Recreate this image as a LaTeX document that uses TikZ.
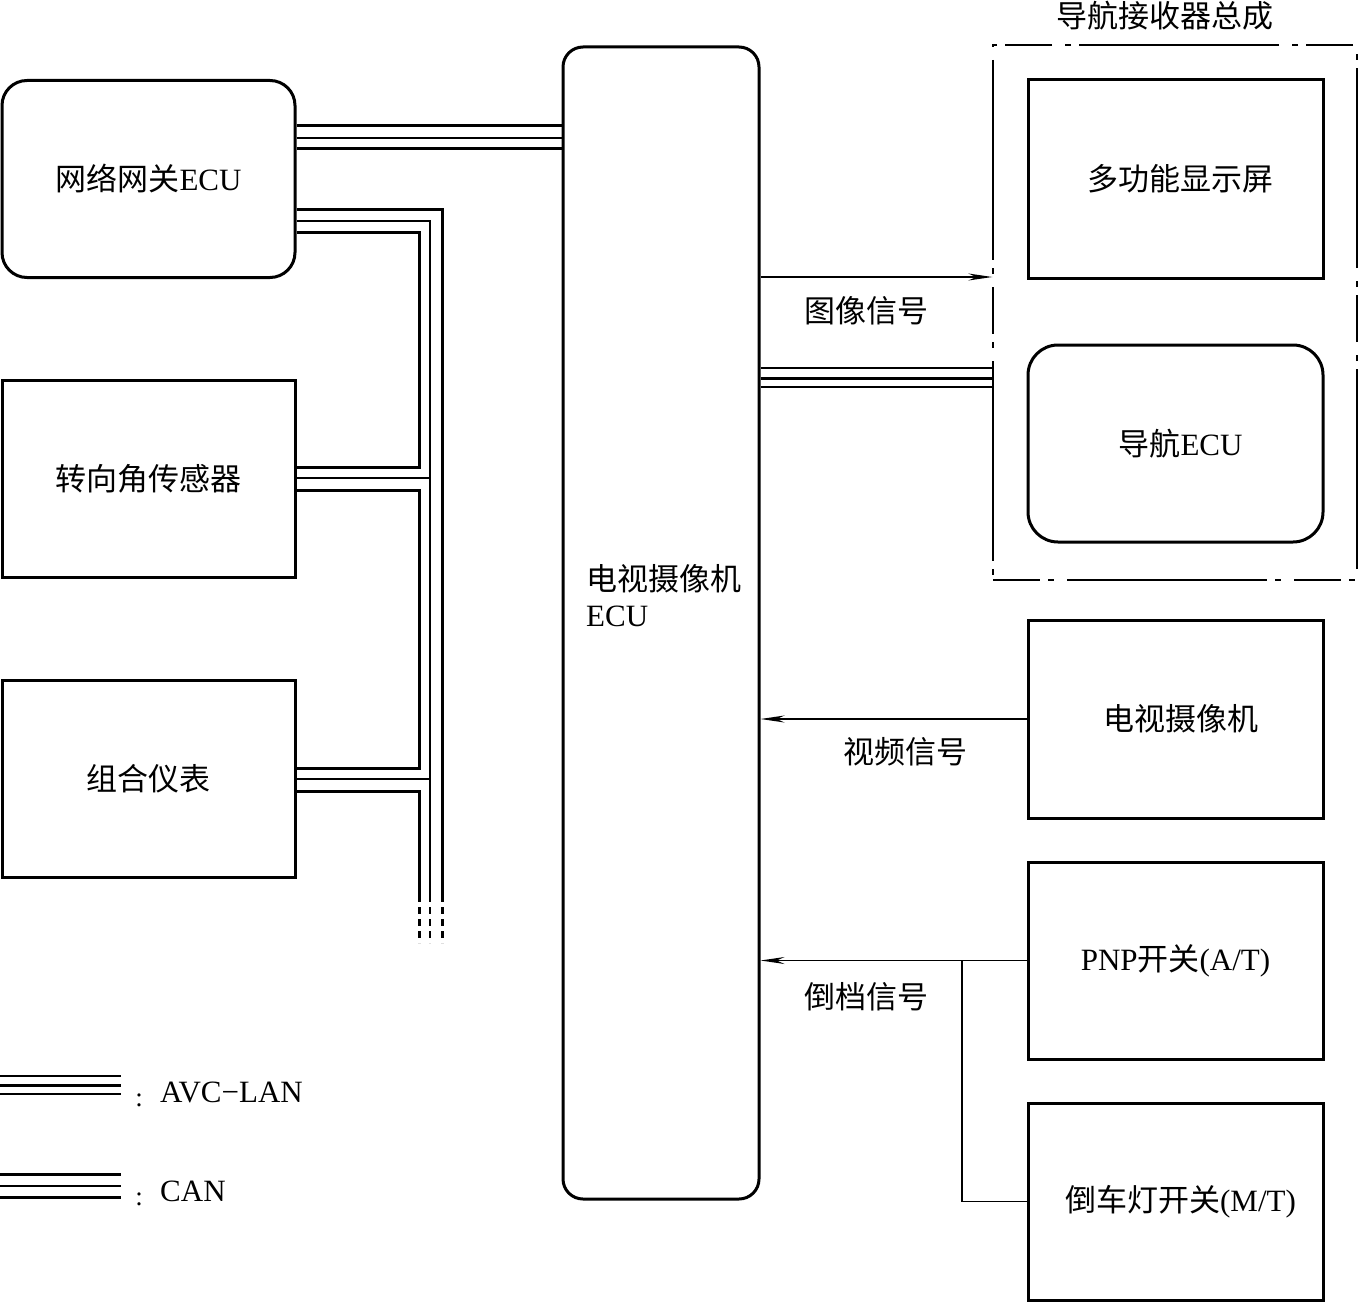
\documentclass[tikz,border=0pt]{standalone}
\usepackage{fontspec}
\setmainfont{Liberation Serif}
\newfontfamily\cjk[Scale=1.0]{Noto Sans CJK SC}
\usetikzlibrary{arrows.meta}
\begin{document}
\begin{tikzpicture}[x=1pt,y=-1pt,
  txt/.style={font=\fontsize{31}{36}\selectfont,inner sep=0pt},
  box/.style={draw,line width=3pt,minimum width=293pt,minimum height=197pt,inner sep=0pt,font=\fontsize{31}{36}\selectfont},
  grp/.style={draw,line width=1.4pt,minimum width=364pt,minimum height=535pt,inner sep=0pt,
     dash pattern=on 47pt off 8pt on 6pt off 13pt on 200pt off 8pt on 6pt off 13pt},
  thk/.style={line width=3pt},
  thn/.style={line width=1.4pt},
  sig/.style={line width=1.5pt,-{Stealth[length=24pt,width=7pt]}},
  endd/.style={dash pattern=on 7pt off 5pt},
]
\useasboundingbox (0,0) rectangle (1360,1303);
% left boxes
\node[box,rounded corners=25pt] (gw) at (148.5,179) {{\cjk 网络网关}ECU\hspace{6pt}};
\node[box] (sa) at (148.5,478.5) {\cjk 转向角传感器};
\node[box] (cm) at (148.5,778.5) {\cjk 组合仪表};
% camera ECU
\node[box,rounded corners=20pt,minimum width=196pt,minimum height=1152pt] (cam) at (661,623) {};
\node[txt,anchor=west,align=left] (camlbl) at (586,596) {{\cjk 电视摄像机}\\ECU};
% navigation receiver assembly
\node[grp] (nav) at (1175,312.5) {};
\node[txt,anchor=south] (navlbl) at (1165,30) {\cjk 导航接收器总成};
\node[box,minimum width=295pt,minimum height=198pt] (mfd) at (1175.5,179) {\hspace{10pt}\cjk 多功能显示屏};
\node[box,rounded corners=30pt,minimum width=295pt] (necu) at (1175.5,443.5) {\hspace{10pt}{\cjk 导航}ECU};
% right boxes
\node[box,minimum width=295pt,minimum height=198pt] (tv) at (1175.5,719) {\hspace{10pt}\cjk 电视摄像机};
\node[box,minimum width=295pt] (pnp) at (1175.5,960.5) {PNP{\cjk 开关}(A/T)};
\node[box,minimum width=295pt] (rev) at (1175.5,1201.5) {\hspace{10pt}{\cjk 倒车灯开关}(M/T)};

% gateway <-> camera ECU
\draw[thk] (gw.east |- 0,126) -- (cam.west |- 0,126);
\draw[thn] (gw.east |- 0,138) -- (cam.west |- 0,138);
\draw[thk] (gw.east |- 0,149) -- (cam.west |- 0,149);

% CAN/AVC bus on the left
\coordinate (eO) at (442,943);
\coordinate (eM) at (430,943);
\coordinate (eI) at (419,943);
\draw[thk] (gw.east |- 0,209) -| (442,895);
\draw[thk,endd] (442,895) -- (eO);
\draw[thn] (gw.east |- 0,221) -| (430,895);
\draw[thn,endd] (430,895) -- (eM);
\draw[thk] (gw.east |- 0,232) -| (419,467) -- (sa.east |- 0,467);
\draw[thn] (sa.east |- 0,478) -- (430,478);
\draw[thk] (sa.east |- 0,490) -| (419,768) -- (cm.east |- 0,768);
\draw[thn] (cm.east |- 0,779) -- (430,779);
\draw[thk] (cm.east |- 0,791) -| (419,895);
\draw[thk,endd] (419,895) -- (eI);

% camera ECU <-> nav ECU
\draw[thn] (cam.east |- 0,368) -- (nav.west |- 0,368);
\draw[thk] (cam.east |- 0,378) -- (nav.west |- 0,378);
\draw[thn] (cam.east |- 0,387) -- (nav.west |- 0,387);

% signals
\draw[sig] (cam.east |- 0,277) -- (nav.west |- 0,277);
\node[txt] (s1) at (866,311) {\cjk 图像信号};
\draw[sig] (tv.west) -- (cam.east |- tv.west);
\node[txt] (s2) at (905,752) {\cjk 视频信号};
\draw[sig] (pnp.west) -- (cam.east |- pnp.west);
\coordinate (j) at (962,960.5);
\draw[line width=1.5pt] (rev.west) -| (j);
\node[txt] (s3) at (866,997) {\cjk 倒档信号};

% legend
\draw[thn] (0,1076) -- (121,1076);
\draw[thk] (0,1085) -- (121,1085);
\draw[thn] (0,1094) -- (121,1094);
\node[font=\fontsize{27}{30}\selectfont,inner sep=0pt,anchor=base] (c1) at (139,1106) {:};
\node[txt,anchor=base west] (l1) at (160,1102) {AVC−LAN};
\draw[thk] (0,1174) -- (121,1174);
\draw[thn] (0,1186) -- (121,1186);
\draw[thk] (0,1197) -- (121,1197);
\node[font=\fontsize{27}{30}\selectfont,inner sep=0pt,anchor=base] (c2) at (139,1205) {:};
\node[txt,anchor=base west] (l2) at (160,1201) {CAN};
\end{tikzpicture}
\end{document}
